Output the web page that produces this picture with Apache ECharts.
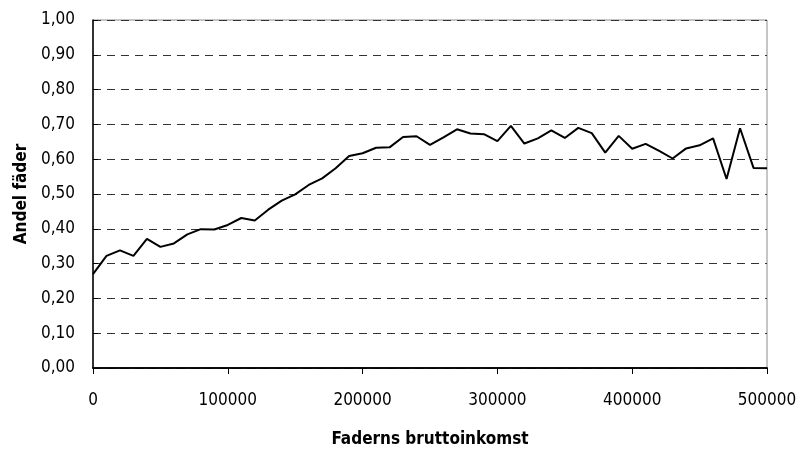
<!DOCTYPE html>
<html>
<head>
<meta charset="utf-8">
<script src="https://cdn.jsdelivr.net/npm/echarts@6/dist/echarts.min.js"></script>
<style>
html,body{margin:0;padding:0;background:#fff;}
#c{width:800px;height:449px;}
</style>
</head>
<body>
<div id="c"></div>
<script>
// Data
var incomes = [0,10000,20000,30000,40000,50000,60000,70000,80000,90000,
  100000,110000,120000,130000,140000,150000,160000,170000,180000,190000,
  200000,210000,220000,230000,240000,250000,260000,270000,280000,290000,
  300000,310000,320000,330000,340000,350000,360000,370000,380000,390000,
  400000,410000,420000,430000,440000,450000,460000,470000,480000,490000,500000];
var shareFathers = [0.270,0.322,0.338,0.322,0.371,0.348,0.358,0.384,0.399,0.398,
  0.411,0.431,0.424,0.455,0.481,0.499,0.526,0.545,0.574,0.609,
  0.617,0.633,0.634,0.664,0.666,0.641,0.663,0.686,0.674,0.672,
  0.652,0.696,0.645,0.660,0.683,0.661,0.690,0.675,0.619,0.667,
  0.630,0.644,0.624,0.602,0.631,0.640,0.660,0.543,0.689,0.575,0.574];
var xTicks = [0,100000,200000,300000,400000,500000];
var yTicks = [0,0.1,0.2,0.3,0.4,0.5,0.6,0.7,0.8,0.9,1.0];
var xTitle = 'Faderns bruttoinkomst';
var yTitle = 'Andel fäder';

var FONT = "'DejaVu Sans Condensed','Liberation Sans',sans-serif";
var pts = incomes.map(function(x,i){ return [x, shareFathers[i]]; });

var chart = echarts.init(document.getElementById('c'), null, {renderer:'canvas'});
chart.setOption({
  animation:false,
  backgroundColor:'#ffffff',
  grid:{left:93, right:33, top:20, bottom:81, containLabel:false, outerBoundsMode:'none',
    show:true, borderColor:'#8c8c8c', borderWidth:1, backgroundColor:'transparent'},
  xAxis:[{
    type:'value', min:0, max:500000, interval:100000,
    name:xTitle, nameLocation:'middle', nameGap:63,
    nameTextStyle:{fontFamily:FONT, fontSize:17, fontWeight:'bold', color:'#000'},
    axisLine:{show:true, onZero:false, lineStyle:{color:'#000', width:1.5}},
    axisTick:{show:true, inside:false, length:6, lineStyle:{color:'#000'}},
    axisLabel:{fontFamily:FONT, fontSize:17, color:'#000', margin:24,
      formatter:function(v){ return xTicks.indexOf(v)>=0 ? String(v) : ''; }},
    splitLine:{show:false}
  },{
    type:'value', position:'top', min:0, max:500000,
    axisLine:{show:true, lineStyle:{color:'#000', width:1.5}},
    axisTick:{show:false}, axisLabel:{show:false}, splitLine:{show:false}
  }],
  yAxis:{
    type:'value', min:0, max:1, interval:0.1,
    name:yTitle, nameLocation:'middle', nameGap:60, nameRotate:90,
    nameTextStyle:{fontFamily:FONT, fontSize:17, fontWeight:'bold', color:'#000'},
    axisLine:{show:true, onZero:false, lineStyle:{color:'#000', width:1.5}},
    axisTick:{show:true, inside:true, length:5, lineStyle:{color:'#000'}},
    axisLabel:{fontFamily:FONT, fontSize:17, color:'#000', margin:18,
      formatter:function(v){ return v.toFixed(2).replace('.', ','); }},
    splitLine:{show:true, lineStyle:{color:'#333', width:1, type:[8,6]}}
  },
  series:[{
    type:'line', data:pts, showSymbol:false, symbol:'none',
    lineStyle:{color:'#000', width:2}, itemStyle:{color:'#000'}
  }]
});
</script>
</body>
</html>
